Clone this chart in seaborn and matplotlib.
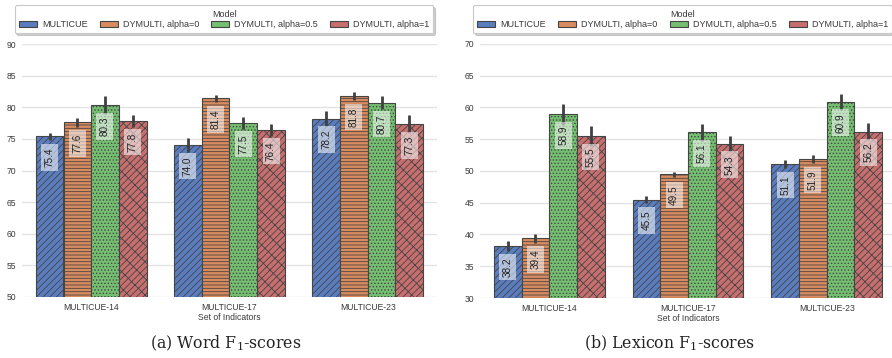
import numpy as np
import pandas as pd
import matplotlib
matplotlib.use("Agg")
import matplotlib.pyplot as plt
import seaborn as sns

# ---- data ----
indicator_sets = ["MULTICUE-14", "MULTICUE-17", "MULTICUE-23"]
models = ["MULTICUE", "DYMULTI, alpha=0", "DYMULTI, alpha=0.5", "DYMULTI, alpha=1"]

word_multicue = [75.4, 74.0, 78.2]
word_alpha0 = [77.6, 81.4, 81.8]
word_alpha05 = [80.3, 77.5, 80.7]
word_alpha1 = [77.8, 76.4, 77.3]

word_err_multicue = [0.6, 1.1, 1.2]
word_err_alpha0 = [0.75, 0.6, 0.65]
word_err_alpha05 = [1.4, 1.0, 1.0]
word_err_alpha1 = [1.0, 0.9, 1.4]

lex_multicue = [38.2, 45.5, 51.1]
lex_alpha0 = [39.4, 49.5, 51.9]
lex_alpha05 = [58.9, 56.1, 60.9]
lex_alpha1 = [55.5, 54.3, 56.2]

lex_err_multicue = [0.8, 0.6, 0.6]
lex_err_alpha0 = [0.7, 0.4, 0.6]
lex_err_alpha05 = [1.7, 1.3, 1.25]
lex_err_alpha1 = [1.6, 1.25, 1.3]

word_ticks = [50, 55, 60, 65, 70, 75, 80, 85, 90]
lex_ticks = [30, 35, 40, 45, 50, 55, 60, 65, 70]

panel_titles = [r"(a) Word F$_1$-scores", r"(b) Lexicon F$_1$-scores"]
x_label = "Set of Indicators"
legend_title = "Model"


def make_frame(vals, errs):
    rows = []
    for m, v, e in zip(models, vals, errs):
        for s, vv, ee in zip(indicator_sets, v, e):
            rows.append({"Set of Indicators": s, "Model": m, "score": vv, "err": ee})
    return pd.DataFrame(rows)


word_df = make_frame([word_multicue, word_alpha0, word_alpha05, word_alpha1],
                     [word_err_multicue, word_err_alpha0, word_err_alpha05, word_err_alpha1])
lex_df = make_frame([lex_multicue, lex_alpha0, lex_alpha05, lex_alpha1],
                    [lex_err_multicue, lex_err_alpha0, lex_err_alpha05, lex_err_alpha1])

# ---- style ----
sns.set_theme(style="whitegrid", palette="muted")
plt.rcParams["font.family"] = ["Liberation Sans", "DejaVu Sans"]
plt.rcParams["mathtext.fontset"] = "dejavuserif"
plt.rcParams["hatch.linewidth"] = 0.6
plt.rcParams["grid.color"] = "#e3e3e3"

hatches = ["/////", "-----", ".....", "/////\\\\"]
palette = sns.color_palette("muted", 4)
edge = "#454545"

fig = plt.figure(figsize=(8.92, 3.58), dpi=100)
W, H = 892, 358
ax1 = fig.add_axes([22 / W, 1 - 297 / H, 415 / W, 253 / H])
ax2 = fig.add_axes([480 / W, 1 - 298 / H, 416 / W, 254 / H])


def draw(ax, df, ticks):
    sns.barplot(data=df, x="Set of Indicators", y="score", hue="Model",
                hue_order=models, order=indicator_sets, palette=palette,
                errorbar=None, edgecolor=edge, linewidth=0.8, ax=ax, width=0.8)
    conts = list(ax.containers)
    for ci, cont in enumerate(conts):
        sub = df[df["Model"] == models[ci]].set_index("Set of Indicators").loc[indicator_sets]
        for bar, (_, r) in zip(cont, sub.iterrows()):
            bar.set_hatch(hatches[ci])
            xc = bar.get_x() + bar.get_width() / 2
            h = bar.get_height()
            ax.errorbar([xc], [h], yerr=[r["err"]], fmt="none", ecolor="#404040",
                        elinewidth=2.0, capsize=0, zorder=4)
            ax.annotate(f"{h:.1f}", xy=(xc, h), xytext=(0, -21),
                        textcoords="offset pixels", rotation=90,
                        ha="center", va="center", fontsize=7.2, color="#222222",
                        bbox=dict(boxstyle="square,pad=0.35", fc="white",
                                  ec="none", alpha=0.55), zorder=5)
    ax.set_ylim(ticks[0], ticks[-1])
    ax.set_yticks(ticks)
    ax.set_xlim(-0.5, 2.5)
    ax.tick_params(axis="both", labelsize=6.2, colors="#3a3a3a", length=0, pad=4)
    ax.set_xlabel(x_label, fontsize=6.2, color="#3a3a3a", labelpad=1)
    ax.set_ylabel("")
    for sp in ax.spines.values():
        sp.set_visible(False)
    ax.grid(axis="x", visible=False)
    ax.set_axisbelow(True)
    leg = ax.legend(title=legend_title, ncol=4, loc="lower center",
                    bbox_to_anchor=(0.487, 1.024), fontsize=6.5, title_fontsize=6.5,
                    frameon=True, shadow={"color": "0.6", "alpha": 0.45, "ox": 1.5, "oy": -1.5},
                    fancybox=True,
                    handlelength=2.0, handleheight=0.7, columnspacing=1.35,
                    borderpad=0.45, labelspacing=0.2, handletextpad=0.55)
    leg.get_frame().set_edgecolor("#c8c8c8")
    leg.get_frame().set_linewidth(0.8)
    for t in leg.get_texts():
        t.set_color("#3a3a3a")
    leg.get_title().set_color("#3a3a3a")


draw(ax1, word_df, word_ticks)
draw(ax2, lex_df, lex_ticks)

fig.text(226 / W, 1 - 343 / H, panel_titles[0], ha="center", va="center",
         fontsize=11.3, family="DejaVu Serif", color="#222222")
fig.text(669 / W, 1 - 343 / H, panel_titles[1], ha="center", va="center",
         fontsize=11.3, family="DejaVu Serif", color="#222222")

fig.savefig("out.png", dpi=100)
